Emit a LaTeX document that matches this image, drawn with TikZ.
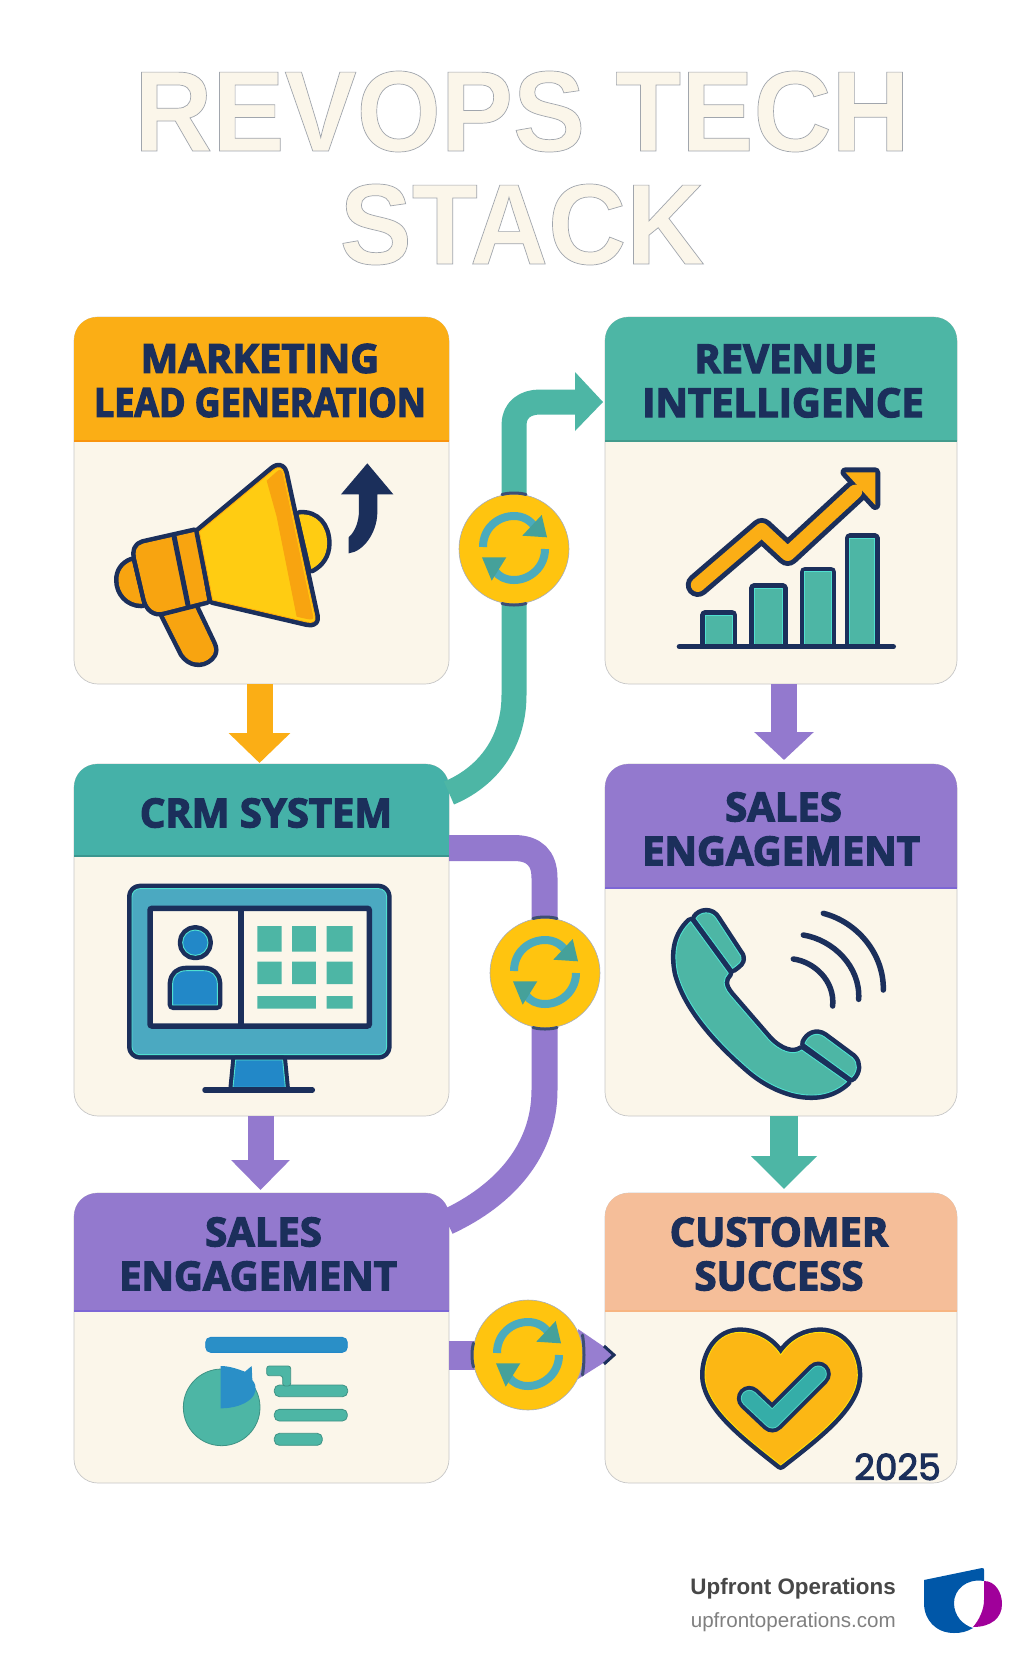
\documentclass[tikz,border=0pt]{standalone}
\usepackage{fontspec}
\usetikzlibrary{arrows.meta,calc}
\newfontfamily\titlefont{Liberation Sans}[FakeStretch=0.945]
\newfontfamily\hfont{Open Sans}
\newfontfamily\yrfont{Poppins}
\newfontfamily\footfont{Liberation Sans}
\definecolor{navyx}{HTML}{1B2F5B}
\definecolor{creamx}{HTML}{FBF6EA}
\definecolor{orangex}{HTML}{FBAE15}
\definecolor{orangedk}{HTML}{F8A410}
\definecolor{yellowx}{HTML}{FFCC12}
\definecolor{tealx}{HTML}{4DB6A5}
\definecolor{teal2}{HTML}{45B1A8}
\definecolor{checkx}{HTML}{35ADA8}
\definecolor{purplex}{HTML}{9379CE}
\definecolor{peachx}{HTML}{F5BE99}
\definecolor{bluex}{HTML}{2288C8}
\definecolor{monx}{HTML}{4BA9C1}
\definecolor{hubx}{HTML}{FFC40F}
\definecolor{cyanx}{HTML}{4FE0D0}
\definecolor{logoblue}{HTML}{0057A8}
\definecolor{logomag}{HTML}{A0009A}
\newcommand\strokedtext[2]{\special{pdf:code 2 Tr #2 w #1 RG}}
\newcommand\stopstroke{\special{pdf:code 0 Tr}}
\newcommand\heavy{\strokedtext{.106 .184 .357}{1.3}}
\newcommand\duo[4]{\draw[navyx,line width=#3,line join=round,line cap=round] #4;\filldraw[fill=#1,draw=#2,line width=0.9pt,line join=round] #4;}
\newcommand\headbar[6]{%
  \fill[#5] (#1,#4) -- (#1,#3+24) .. controls (#1,#3+10) and (#1+10,#3) .. (#1+24,#3) -- (#2-24,#3) .. controls (#2-10,#3) and (#2,#3+10) .. (#2,#3+24) -- (#2,#4) -- cycle;
  \draw[#6,line width=1.2pt] (#1,#4) -- (#2,#4);}
\newcommand\refreshmark[1]{%
  \begin{scope}[shift={(#1)}]
    \draw[draw=monx!85!tealx,line width=8pt] (-31,-2) .. controls (-31,-21) and (-16,-33) .. (0,-33) .. controls (9,-33) and (17,-29) .. (22,-20);
    \fill[fill=tealx!80!monx!90!black] (27.7,-34) -- (33,-11.7) -- (8.3,-13.3) -- cycle;
    \draw[draw=monx!85!tealx,line width=8pt] (31,0) .. controls (31,18) and (16,31) .. (0,31) .. controls (-8,31) and (-15,28) .. (-19,22);
    \fill[fill=tealx!80!monx!90!black] (-32,8.3) -- (-7.7,8.3) -- (-22.3,31.7) -- cycle;
  \end{scope}}
\tikzset{
  card/.style={draw=black!22,line width=0.7pt,fill=creamx,rounded corners=24pt,inner sep=0pt,outer sep=0pt,anchor=north west},
  headtxt/.style={text=navyx,font=\hfont\bfseries\fontsize{40}{44}\selectfont,align=center,inner sep=0pt},
  flowv/.style={line width=26pt},
  hubnode/.style={circle,draw=navyx!40,line width=0.6pt,fill=hubx,minimum size=110pt,inner sep=0pt,outer sep=0pt},
  hubcap/.style={draw=navyx!85,line width=3pt,line cap=round},
  softbar/.style={fill=tealx,draw=tealx!80!black,line width=0.8pt},
}
\begin{document}
\begin{tikzpicture}[x=1pt,y=-1pt]
\useasboundingbox (0,0) rectangle (1024,1666);
\fill[white] (0,0) rectangle (1024,1666);
% title
\node[inner sep=0pt,align=center,text=creamx,font=\titlefont\bfseries\fontsize{114.5}{113}\selectfont] (title) at (522,168) {\strokedtext{.63 .65 .68}{0.7}REVOPS TECH\\ \strokedtext{.63 .65 .68}{0.7}STACK\stopstroke};
% cards
\node[card,minimum width=375pt,minimum height=367pt] (marketing) at (74,317) {};
\node[card,minimum width=352pt,minimum height=367pt] (revenue) at (605,317) {};
\node[card,minimum width=375pt,minimum height=352pt] (crm) at (74,764) {};
\node[card,minimum width=352pt,minimum height=352pt] (engageR) at (605,764) {};
\node[card,minimum width=375pt,minimum height=290pt] (engageL) at (74,1193) {};
\node[card,minimum width=352pt,minimum height=290pt] (success) at (605,1193) {};
% headers
\headbar{74}{449}{317}{441}{orangex}{orangedk!90!red}
\headbar{605}{957}{317}{441}{tealx}{tealx!85!black}
\headbar{74}{449}{764}{856}{teal2}{teal2!85!black}
\headbar{605}{957}{764}{888}{purplex}{purplex!85!blue}
\headbar{74}{449}{1193}{1311}{purplex}{purplex!85!blue}
\headbar{605}{957}{1193}{1311}{peachx}{peachx!85!orange}
% header text
\node[headtxt] (h1) at (260,380.5) {\heavy MARKETING\\ \heavy{\addfontfeature{FakeStretch=0.895}LEAD GENERATION}\stopstroke};
\node[headtxt] (h2) at (783,381) {\heavy\hspace*{5pt}REVENUE\\ \heavy INTELLIGENCE\stopstroke};
\node[headtxt] (h3) at (266,813) {\heavy CRM SYSTEM\stopstroke};
\node[headtxt] (h4) at (781,829) {\heavy\hspace*{5pt}SALES\\ \heavy ENGAGEMENT\stopstroke};
\node[headtxt] (h5) at (258,1254) {\heavy\hspace*{11pt}SALES\\ \heavy ENGAGEMENT\stopstroke};
\node[headtxt] (h6) at (779,1254) {\heavy CUSTOMER\\ \heavy SUCCESS\stopstroke};
% hub positions
\coordinate (hubApos) at (514,549);
\coordinate (hubBpos) at (545,973);
\coordinate (hubCpos) at (528,1355);
% connectors
\coordinate (tealstart) at (449,793);
\coordinate (tealend) at (603,402);
\coordinate (purplestart) at (449,848);
\coordinate (purpleend) at (447,1222);
\coordinate (hstart) at (449,1355);
\coordinate (hend) at (616,1355);
\draw[orangex,flowv,-{Triangle[length=30pt,width=60pt]},shorten >=1pt] ([xshift=-2pt]marketing.south) -- ([xshift=-2pt]crm.north);
\draw[purplex,flowv,-{Triangle[length=28pt,width=58pt]},shorten >=4pt] ([xshift=3pt]revenue.south) -- ([xshift=3pt]engageR.north);
\draw[purplex,flowv,-{Triangle[length=30pt,width=57pt]},shorten >=3pt] ([xshift=-1pt]crm.south) -- ([xshift=-1pt]engageL.north);
\draw[tealx,line width=28pt,-{Triangle[length=33pt,width=64pt]},shorten >=4pt] ([xshift=3pt]engageR.south) -- ([xshift=3pt]success.north);
\draw[tealx,line width=25pt,line join=round] (tealstart) .. controls (485,778) and (514,745) .. (514,695) -- (514,425) .. controls (514,410) and (525,402) .. (540,402) -- (578,402);
\fill[tealx] (575,372) -- (tealend) -- (575,431) -- cycle;
\draw[purplex,line width=26pt] (purplestart) -- (514,848) .. controls (534,848) and (544.5,858) .. (544.5,878) -- (544.5,1090) .. controls (544.5,1150) and (505,1195) .. (purpleend);
\draw[purplex,line width=29pt] (hstart) -- (590,1355);
\fill[purplex!96!white] (578,1329) -- (hend) -- (578,1379) -- cycle;
\draw[navyx,line width=3pt,line join=miter] (604,1346) -- (614,1355) -- (604,1364);
% hubs
\node[hubnode] (hubA) at (hubApos) {};
\node[hubnode] (hubB) at (hubBpos) {};
\node[hubnode] (hubC) at (hubCpos) {};
\draw[hubcap] ($(hubA.north)+(-12,0.5)$) .. controls ($(hubA.north)+(-5,-1.5)$) and ($(hubA.north)+(5,-1.5)$) .. ($(hubA.north)+(12,0.5)$);
\draw[hubcap] ($(hubA.south)+(-12,-0.5)$) .. controls ($(hubA.south)+(-5,1.5)$) and ($(hubA.south)+(5,1.5)$) .. ($(hubA.south)+(12,-0.5)$);
\draw[hubcap] ($(hubB.north)+(-12,0.5)$) .. controls ($(hubB.north)+(-5,-1.5)$) and ($(hubB.north)+(5,-1.5)$) .. ($(hubB.north)+(12,0.5)$);
\draw[hubcap] ($(hubB.south)+(-12,-0.5)$) .. controls ($(hubB.south)+(-5,1.5)$) and ($(hubB.south)+(5,1.5)$) .. ($(hubB.south)+(12,-0.5)$);
\draw[hubcap] ($(hubC.west)+(0.5,-12)$) .. controls ($(hubC.west)+(-1.5,-5)$) and ($(hubC.west)+(-1.5,5)$) .. ($(hubC.west)+(0.5,12)$);
\draw[hubcap] ($(hubC.east)+(-0.5,-20)$) .. controls ($(hubC.east)+(1.5,-8)$) and ($(hubC.east)+(1.5,8)$) .. ($(hubC.east)+(-0.5,20)$);
\refreshmark{hubApos}
\refreshmark{hubBpos}
\refreshmark{hubCpos}
% megaphone
\begin{scope}[shift={(60,300)},scale=0.33333]
\duo{yellowx}{yellowx}{10pt}{(718,645) .. controls (770,640) and (800,680) .. (800,730) .. controls (800,765) and (782,790) .. (755,805) -- cycle}
\duo{orangedk}{orangedk}{10pt}{(215,785) .. controls (190,795) and (177,815) .. (177,840) .. controls (177,878) and (205,910) .. (245,910) -- cycle}
\duo{orangedk}{orangedk}{10pt}{(312,945) -- (370,1060) .. controls (390,1090) and (425,1095) .. (450,1072) .. controls (465,1058) and (462,1045) .. (455,1030) -- (405,925) -- cycle}
\duo{orangedk}{orangedk}{10pt}{(405,697) -- (250,732) .. controls (230,737) and (225,755) .. (230,775) -- (258,895) .. controls (265,925) and (285,940) .. (310,933) -- (440,900) -- cycle}
\draw[navyx,line width=5pt] (342,708) -- (385,920);
\duo{yellowx}{yellowx!60!orange}{10pt}{(418,695) -- (640,510) .. controls (657,497) and (668,503) .. (672,520) -- (765,950) .. controls (768,965) and (758,970) .. (740,966) -- (458,900) -- cycle}
\fill[orangedk] (620,542) -- (650,515) .. controls (660,505) and (666,510) .. (669,522) -- (760,950) .. controls (763,962) and (752,960) .. (710,950) -- (650,650) -- cycle;
\fill[navyx] (922,490) -- (1000,583) -- (952,583) -- (952,640) .. controls (950,700) and (910,755) .. (866,760) -- (866,712) .. controls (885,695) and (897,665) .. (897,630) -- (897,583) -- (843,583) -- cycle;
\end{scope}
% revenue icon
\begin{scope}[shift={(440,310)},xscale=0.346,yscale=0.3333]
\duo{tealx}{cyanx}{10pt}{(767,1003) -- (767,915) -- (845,915) -- (845,1003) -- cycle}
\duo{tealx}{cyanx}{10pt}{(908,1003) -- (908,835) -- (990,835) -- (990,1003) -- cycle}
\duo{tealx}{cyanx}{10pt}{(1054,1003) -- (1054,785) -- (1131,785) -- (1131,1003) -- cycle}
\duo{tealx}{cyanx}{10pt}{(1184,1003) -- (1184,685) -- (1256,685) -- (1256,1003) -- cycle}
\draw[navyx,line width=5.5pt,line cap=round] (692,1010) -- (1310,1010);
\draw[navyx,line width=24pt,line join=round,line cap=round] (745,825) -- (930,660) -- (1005,732) -- (1200,545);
\draw[navyx,line width=10pt,line join=round] (1172,487) -- (1258,487) -- (1258,585) -- cycle;
\fill[orangex] (1172,487) -- (1258,487) -- (1258,585) -- cycle;
\draw[orangex,line width=14pt,line join=round,line cap=round] (745,825) -- (930,660) -- (1005,732) -- (1200,545);
\end{scope}
% crm icon
\begin{scope}[shift={(100,760)},scale=0.33333]
\duo{monx}{cyanx}{10pt}{[rounded corners=8pt] (96,386) -- (860,386) -- (860,884) -- (96,884) -- cycle}
\draw[navyx,line width=5.5pt,fill=creamx,rounded corners=2pt] (150,445) rectangle (808,798);
\draw[navyx,line width=5.5pt] (423,445) -- (423,798);
\duo{bluex}{cyanx}{10pt}{(286,548) circle[radius=38]}
\duo{bluex}{cyanx}{10pt}{(218,735) -- (218,670) .. controls (220,645) and (235,632) .. (260,632) -- (310,632) .. controls (335,632) and (350,645) .. (352,670) -- (352,735) -- cycle}
\fill[tealx] (472,498) rectangle (545,575) (576,498) rectangle (648,575) (680,498) rectangle (758,575);
\fill[tealx] (472,605) rectangle (545,672) (576,605) rectangle (648,672) (680,605) rectangle (758,672);
\fill[tealx] (472,708) rectangle (648,746) (680,708) rectangle (758,746);
\duo{bluex}{cyanx}{9pt}{(407,900) -- (548,900) -- (556,982) -- (399,982) -- cycle}
\draw[navyx,line width=5.5pt,line cap=round] (315,990) -- (637,990);
\end{scope}
% phone icon
\begin{scope}[shift={(600,880)},scale=0.33333]
\duo{tealx}{cyanx}{10pt}{(272,125) .. controls (230,165) and (220,215) .. (233,280) .. controls (260,380) and (345,478) .. (445,565) .. controls (530,640) and (660,680) .. (740,605) -- (605,510) .. controls (580,528) and (540,515) .. (505,478) -- (390,345) .. controls (365,315) and (370,295) .. (385,280) -- cycle}
\duo{tealx}{cyanx}{10pt}{(288,115) .. controls (300,95) and (335,90) .. (350,118) -- (422,228) .. controls (428,245) and (415,252) .. (398,265) -- cycle}
\duo{tealx}{cyanx}{10pt}{(615,490) .. controls (625,465) and (650,455) .. (672,470) -- (757,533) .. controls (775,550) and (772,575) .. (755,592) -- cycle}
\draw[navyx,line width=5.5pt,line cap=round] (580,237) .. controls (640,245) and (705,300) .. (698,378);
\draw[navyx,line width=5.5pt,line cap=round] (610,165) .. controls (700,180) and (782,260) .. (776,358);
\draw[navyx,line width=5.5pt,line cap=round] (670,100) .. controls (770,125) and (852,220) .. (850,330);
\end{scope}
% sales icon
\begin{scope}[shift={(150,1280)},scale=0.33333]
\filldraw[fill=bluex!80!monx,draw=bluex,line width=0.8pt,rounded corners=5pt] (167,172) rectangle (592,217);
\filldraw[softbar] (215,382) circle[radius=115];
\fill[bluex!80!monx] (212,258) .. controls (240,258) and (265,268) .. (285,275) -- (305,258) -- (307,300) .. controls (340,340) and (290,385) .. (212,385) -- cycle;
\filldraw[softbar,rounded corners=5pt] (373,315) rectangle (593,350);
\filldraw[softbar,rounded corners=5pt] (373,388) rectangle (592,423);
\filldraw[softbar,rounded corners=5pt] (373,460) rectangle (517,496);
\filldraw[softbar,rounded corners=2.5pt] (350,258) -- (422,258) -- (422,318) -- (398,318) -- (398,287) -- (350,287) -- cycle;
\end{scope}
% heart icon
\begin{scope}[shift={(650,1300)},scale=0.33333]
\duo{orangex!70!yellowx}{yellowx!60!yellow}{10pt}{(392,165) .. controls (360,115) and (310,97) .. (270,97) .. controls (205,97) and (165,160) .. (165,225) .. controls (165,320) and (285,410) .. (392,495) .. controls (500,410) and (622,320) .. (622,225) .. controls (622,160) and (580,97) .. (510,97) .. controls (470,97) and (425,115) .. (392,165) -- cycle}
\draw[navyx,line width=25pt,line cap=round,line join=round] (298,295) -- (367,360) -- (505,222);
\draw[cyanx!70!tealx,line width=17pt,line cap=round,line join=round] (298,295) -- (367,360) -- (505,222);
\draw[checkx,line width=15pt,line cap=round,line join=round] (298,295) -- (367,360) -- (505,222);
\end{scope}
\node[anchor=base east,inner sep=0pt,text=navyx,font=\yrfont\fontsize{36}{36}\selectfont] (year) at (941,1480) {\strokedtext{.106 .184 .357}{1}2025\stopstroke};
% footer
\node[anchor=base east,inner sep=0pt,text=black!72,font=\footfont\bfseries\fontsize{22.4}{24}\selectfont] (brand) at (896,1594) {Upfront Operations};
\node[anchor=base east,inner sep=0pt,text=black!50,font=\footfont\fontsize{20.6}{22}\selectfont] (site) at (896,1627) {upfrontoperations.com};
% logo
\fill[logoblue] (924,1580) -- (982,1568) .. controls (984,1568) and (984,1569) .. (984,1570) -- (984,1581) .. controls (966,1578) and (954,1590) .. (954,1603) .. controls (954,1616) and (963,1625) .. (973,1628) .. controls (966,1632) and (961,1633) .. (954,1633) .. controls (936,1633) and (924,1620) .. (924,1603) -- cycle;
\fill[logomag] (984,1581) .. controls (995,1581) and (1002,1592) .. (1002,1604) .. controls (1002,1618) and (991,1627) .. (973,1627) .. controls (979,1620) and (984,1610) .. (984,1600) -- cycle;
\end{tikzpicture}
\end{document}
